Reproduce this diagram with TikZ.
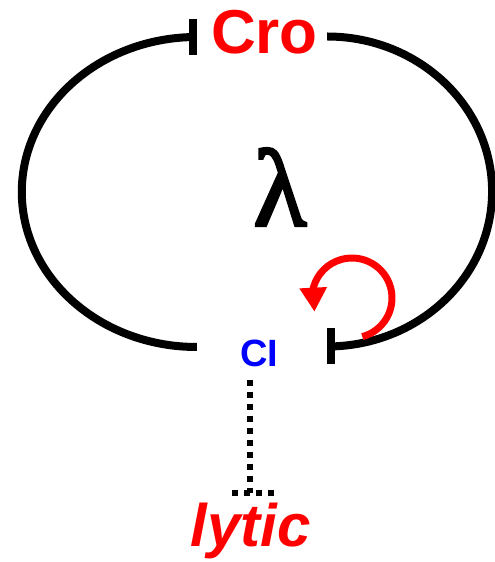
\documentclass[tikz,border=0pt]{standalone}
\usepackage{fontspec}
\setmainfont{Liberation Serif}
\setsansfont{Liberation Sans}
\newfontfamily\phagefont[FakeBold=2.5]{Liberation Serif}
\usetikzlibrary{arrows.meta,bending}
\definecolor{crored}{RGB}{255,0,0}
\definecolor{ciblue}{RGB}{0,0,255}
\begin{document}
\begin{tikzpicture}[x=1pt,y=1pt,
    genetext/.style={inner sep=0pt},
    repress/.style={line width=8pt,-{Bar[width=36pt]}},
    dotline/.style={line width=6pt,dash pattern=on 6pt off 6pt},
    selfloop/.style={line width=7pt,crored,-{Triangle[length=24pt,width=26pt]}}]
    \useasboundingbox (0,0) rectangle (495,562);
    % labels
    \node (cro) at (264.5,529.5) [genetext,text=crored,font=\sffamily\bfseries\fontsize{62}{62}\selectfont] {Cro};
    \node (ci) at (259,209) [genetext,text=ciblue,font=\sffamily\bfseries\fontsize{38}{38}\selectfont] {CI};
    \node (lytic) at (250.5,31.5) [genetext,text=crored,font=\sffamily\bfseries\itshape\fontsize{60}{60}\selectfont] {lytic};
    \node (lambda) at (280,375) [genetext,font=\phagefont\fontsize{110}{110}\selectfont] {λ};
    % ends of the loop
    \path (cro.west) ++(-14,-4) coordinate (cro-w);
    \path (cro.east) ++(9,-4) coordinate (cro-e);
    \path (ci.west) ++(-43,6) coordinate (ci-w);
    \path (ci.east) ++(49,6) coordinate (ci-e);
    \coordinate (loopc) at (352,264);
    \coordinate (lyticbar) at (250,69);
    % mutual repression
    \draw[repress] (ci-w) arc[start angle=270,end angle=90,x radius=175pt,y radius=155pt];
    \draw[repress] (cro-e) arc[start angle=90,end angle=-90,x radius=165pt,y radius=155pt];
    % CI on itself
    \draw[selfloop] ([shift={(-75:40pt)}]loopc) arc[start angle=-75,end angle=200,radius=40pt];
    % CI off lytic
    \draw[dotline,shorten <=13pt] (ci.south -| lyticbar) -- (lyticbar);
    \draw[dotline] ([xshift=-18pt]lyticbar) -- ([xshift=25pt]lyticbar);
\end{tikzpicture}
\end{document}
